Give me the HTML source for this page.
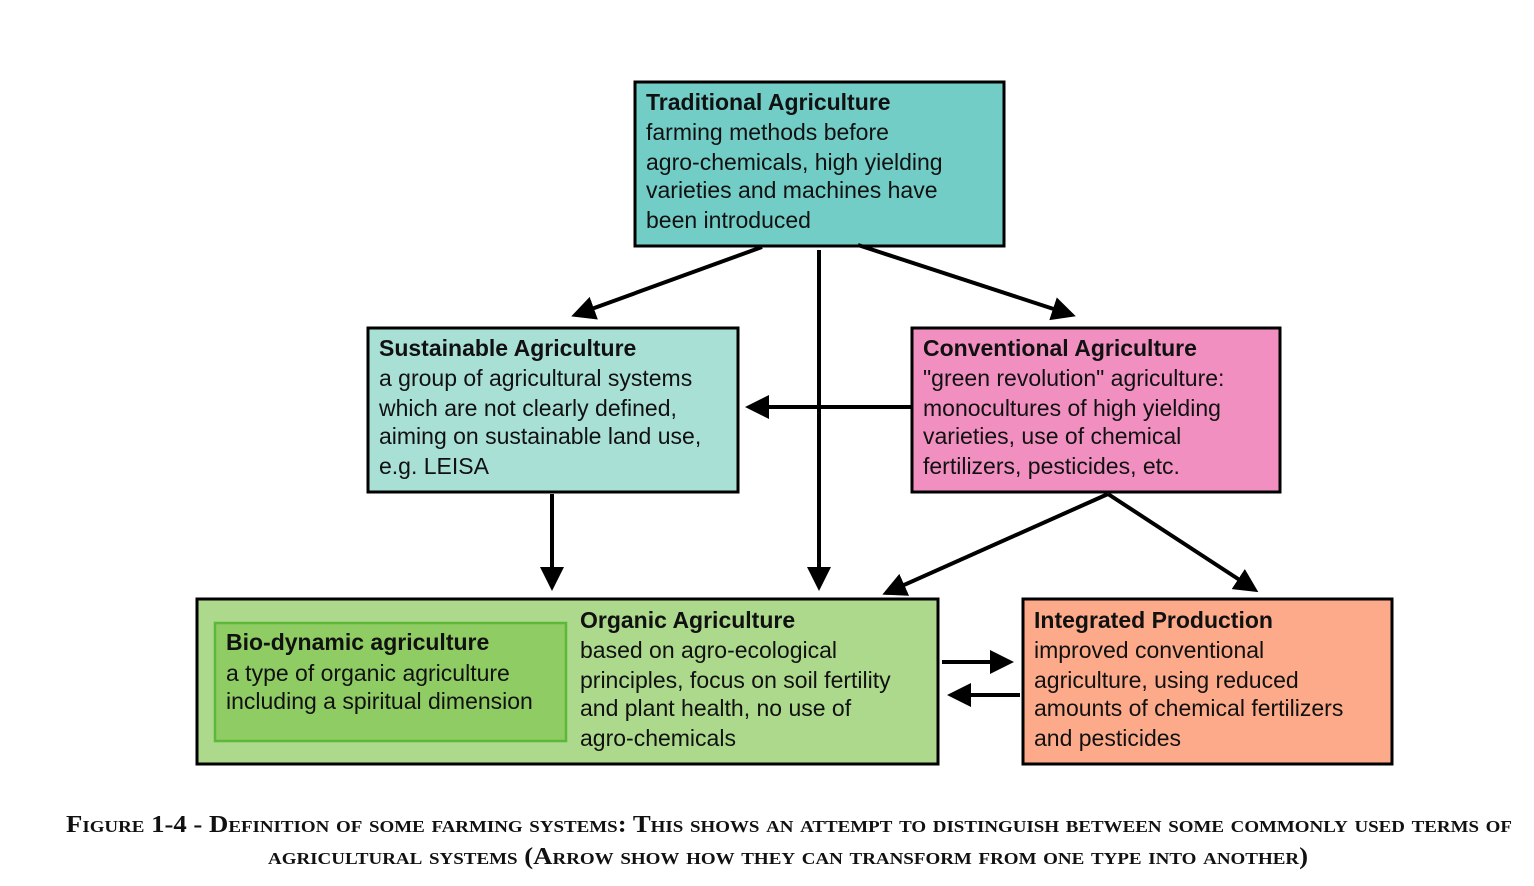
<!DOCTYPE html>
<html><head><meta charset="utf-8"><style>
html,body{margin:0;padding:0;background:#fff;width:1534px;height:886px;overflow:hidden}
svg text{font-family:"Liberation Sans",sans-serif;font-size:23px;fill:#111}
.b{font-weight:bold}
.cap{font-family:"Liberation Serif",serif;font-weight:bold;font-variant:small-caps;font-size:24px}
</style></head><body>
<svg width="1534" height="886" viewBox="0 0 1534 886" xmlns="http://www.w3.org/2000/svg">
<defs><marker id="a" markerWidth="6" markerHeight="6" refX="5" refY="3" orient="auto" markerUnits="strokeWidth"><path d="M0,0 L6,3 L0,6 z" fill="#000"/></marker></defs>
<g stroke="#000" stroke-width="3">
<rect x="635" y="82" width="369" height="164" fill="#72cdc6"/>
<rect x="368" y="328" width="370" height="164" fill="#a8e0d6"/>
<rect x="912" y="328" width="368" height="164" fill="#f190c0"/>
<rect x="197" y="599" width="741" height="165" fill="#acd98c"/>
<rect x="1023" y="599" width="369" height="165" fill="#fcaa8a"/>
</g>
<rect x="215" y="623" width="351" height="118" fill="#8fcc63" stroke="#5db83a" stroke-width="2.5"/>
<g stroke="#000" stroke-width="4" fill="none" marker-end="url(#a)">
<line x1="762" y1="247" x2="575" y2="315"/>
<line x1="819" y1="250" x2="819" y2="587"/>
<line x1="858" y1="245" x2="1072" y2="315"/>
<line x1="911" y1="407" x2="749" y2="407"/>
<line x1="552" y1="494" x2="552" y2="587"/>
<line x1="1108" y1="494" x2="886" y2="593"/>
<line x1="1108" y1="494" x2="1255" y2="590"/>
<line x1="942" y1="662" x2="1010" y2="662"/>
<line x1="1020" y1="695" x2="951" y2="695"/>
</g>
<text x="646" y="110" class="b">Traditional Agriculture</text>
<text x="646" y="140">farming methods before</text>
<text x="646" y="170">agro-chemicals, high yielding</text>
<text x="646" y="198">varieties and machines have</text>
<text x="646" y="228">been introduced</text>
<text x="379" y="356" class="b">Sustainable Agriculture</text>
<text x="379" y="386">a group of agricultural systems</text>
<text x="379" y="416">which are not clearly defined,</text>
<text x="379" y="444">aiming on sustainable land use,</text>
<text x="379" y="474">e.g. LEISA</text>
<text x="923" y="356" class="b">Conventional Agriculture</text>
<text x="923" y="386">"green revolution" agriculture:</text>
<text x="923" y="416">monocultures of high yielding</text>
<text x="923" y="444">varieties, use of chemical</text>
<text x="923" y="474">fertilizers, pesticides, etc.</text>
<text x="226" y="650" class="b">Bio-dynamic agriculture</text>
<text x="226" y="681">a type of organic agriculture</text>
<text x="226" y="709">including a spiritual dimension</text>
<text x="580" y="628" class="b">Organic Agriculture</text>
<text x="580" y="658">based on agro-ecological</text>
<text x="580" y="688">principles, focus on soil fertility</text>
<text x="580" y="716">and plant health, no use of</text>
<text x="580" y="746">agro-chemicals</text>
<text x="1034" y="628" class="b">Integrated Production</text>
<text x="1034" y="658">improved conventional</text>
<text x="1034" y="688">agriculture, using reduced</text>
<text x="1034" y="716">amounts of chemical fertilizers</text>
<text x="1034" y="746">and pesticides</text>
<text x="66" y="832" class="cap" textLength="1446" lengthAdjust="spacingAndGlyphs">Figure 1-4 - Definition of some farming systems: This shows an attempt to distinguish between some commonly used terms of</text>
<text x="268" y="864" class="cap" textLength="1040" lengthAdjust="spacingAndGlyphs">agricultural systems (Arrow show how they can transform from one type into another)</text>
</svg>
</body></html>
